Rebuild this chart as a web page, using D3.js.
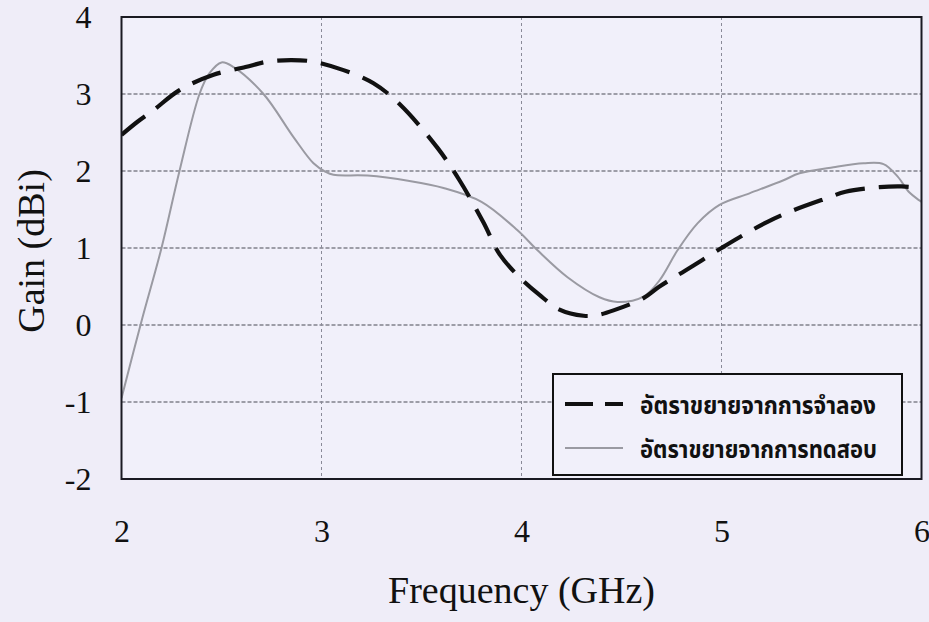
<!DOCTYPE html>
<html><head><meta charset="utf-8">
<script src="https://cdn.jsdelivr.net/npm/d3@7"></script>
<style>
html,body{margin:0;padding:0;background:#efedf8;}
svg{display:block;}
.serif{font-family:'Liberation Serif','Times New Roman',serif;}
</style></head>
<body>
<script>
// ---- data ----
const xTicks = [2, 3, 4, 5, 6];
const yTicks = [-2, -1, 0, 1, 2, 3, 4];
const xLabel = "Frequency (GHz)";
const yLabel = "Gain (dBi)";
const seriesNames = ["อัตราขยายจากการจำลอง", "อัตราขยายจากการทดสอบ"];

const simFreq = [2.0, 2.08, 2.16, 2.29, 2.46, 2.62, 2.73, 2.85, 2.96, 3.11, 3.26, 3.39, 3.58, 3.69, 3.81, 3.89, 3.99, 4.09, 4.19, 4.31, 4.38, 4.46, 4.61, 4.69, 4.84, 5.0, 5.09, 5.23, 5.36, 5.53, 5.62, 5.79, 5.9, 6.0];
const simGain = [2.47, 2.64, 2.79, 3.05, 3.25, 3.35, 3.42, 3.44, 3.42, 3.31, 3.14, 2.87, 2.30, 1.88, 1.33, 0.92, 0.62, 0.39, 0.2, 0.12, 0.13, 0.19, 0.35, 0.5, 0.74, 1.0, 1.14, 1.34, 1.49, 1.65, 1.73, 1.79, 1.8, 1.78];

const measFreq = [2.0, 2.1, 2.2, 2.29, 2.39, 2.44, 2.5, 2.56, 2.71, 2.86, 2.96, 3.02, 3.06, 3.23, 3.44, 3.61, 3.8, 3.98, 4.08, 4.23, 4.39, 4.48, 4.61, 4.69, 4.78, 4.88, 4.99, 5.14, 5.31, 5.39, 5.56, 5.71, 5.81, 5.88, 5.94, 6.0];
const measGain = [-0.95, 0.05, 1.0, 2.0, 3.0, 3.27, 3.41, 3.35, 3.0, 2.44, 2.1, 1.99, 1.95, 1.94, 1.87, 1.78, 1.6, 1.23, 0.97, 0.62, 0.36, 0.3, 0.37, 0.58, 0.97, 1.32, 1.56, 1.71, 1.88, 1.97, 2.05, 2.1, 2.09, 1.93, 1.72, 1.6];

// ---- layout ----
const W = 929, H = 622;
const m = {left: 121.5, top: 17, right: 929 - 921.5, bottom: 622 - 479};
const svg = d3.select("body").append("svg").attr("width", W).attr("height", H);

const x = d3.scaleLinear().domain([2, 6]).range([m.left, W - m.right]);
const y = d3.scaleLinear().domain([-2, 4]).range([H - m.bottom, m.top]);

svg.append("rect").attr("width", W).attr("height", H).attr("fill", "#efedf8");
svg.append("rect").attr("x", x(2)).attr("y", y(4)).attr("width", x(6) - x(2)).attr("height", y(-2) - y(4)).attr("fill", "#f1f0fa");

// grid
svg.append("g").selectAll("line").data(yTicks.filter(d => d > -2 && d < 4)).join("line")
  .attr("x1", x(2)).attr("x2", x(6)).attr("y1", d => y(d)).attr("y2", d => y(d))
  .attr("stroke", "#4a4a55").attr("stroke-width", 1.2).attr("stroke-dasharray", "4,2");
svg.append("g").selectAll("line").data(xTicks.filter(d => d > 2 && d < 6)).join("line")
  .attr("x1", d => x(d)).attr("x2", d => x(d)).attr("y1", y(4)).attr("y2", y(-2))
  .attr("stroke", "#8a8a98").attr("stroke-width", 1).attr("stroke-dasharray", "3,3");

// axes (labels only)
const xAxis = svg.append("g").attr("transform", `translate(0,${y(-2)})`)
  .call(d3.axisBottom(x).tickValues(xTicks).tickSize(0).tickPadding(40).tickFormat(d3.format("d")));
const yAxis = svg.append("g").attr("transform", `translate(${x(2)},0)`)
  .call(d3.axisLeft(y).tickValues(yTicks).tickSize(0).tickPadding(30).tickFormat(d => d < 0 ? "-" + Math.abs(d) : d));
[xAxis, yAxis].forEach(a => {
  a.select(".domain").remove();
  a.attr("font-family", null).attr("font-size", null);
  a.selectAll("text").attr("class", "serif")
    .style("font-family", "'Liberation Serif', 'Times New Roman', serif")
    .style("font-size", "32px").attr("fill", "#111");
});

// lines
const line = d3.line().x(d => x(d[0])).y(d => y(d[1])).curve(d3.curveCatmullRom.alpha(0.5));
const simData = simFreq.map((f, i) => [f, simGain[i]]);
const measData = measFreq.map((f, i) => [f, measGain[i]]);

svg.append("clipPath").attr("id", "pc").append("rect")
  .attr("x", x(2)).attr("y", y(4)).attr("width", x(6) - x(2)).attr("height", y(-2) - y(4));

svg.append("path").datum(measData).attr("d", line).attr("fill", "none")
  .attr("stroke", "#9a9aa2").attr("stroke-width", 2).attr("clip-path", "url(#pc)");
svg.append("path").datum(simData).attr("d", line).attr("fill", "none")
  .attr("stroke", "#111").attr("stroke-width", 4.2).attr("stroke-dasharray", "30,14").attr("clip-path", "url(#pc)");

// frame
svg.append("rect").attr("x", x(2)).attr("y", y(4)).attr("width", x(6) - x(2)).attr("height", y(-2) - y(4))
  .attr("fill", "none").attr("stroke", "#1a1a22").attr("stroke-width", 2);

// legend
const lg = svg.append("g");
const lx = 553, ly = 374, lw = 349, lh = 101;
lg.append("rect").attr("x", lx).attr("y", ly).attr("width", lw).attr("height", lh)
  .attr("fill", "#f1f0fa").attr("stroke", "#111").attr("stroke-width", 2);
lg.append("line").attr("x1", lx + 12).attr("x2", lx + 70).attr("y1", ly + 30).attr("y2", ly + 30)
  .attr("stroke", "#111").attr("stroke-width", 4.2).attr("stroke-dasharray", "28,12");
lg.append("line").attr("x1", lx + 12).attr("x2", lx + 70).attr("y1", ly + 74).attr("y2", ly + 74)
  .attr("stroke", "#9a9aa2").attr("stroke-width", 2);
lg.selectAll("text").data(seriesNames).join("text")
  .attr("x", lx + 87).attr("y", (d, i) => ly + 40 + i * 44)
  .attr("font-family", "'Noto Sans Thai', 'Noto Sans', 'DejaVu Sans', sans-serif")
  .attr("font-weight", "bold").attr("font-size", 24).attr("fill", "#111")
  .attr("textLength", (d, i) => i === 0 ? 236 : 237).attr("lengthAdjust", "spacingAndGlyphs")
  .text(d => d);

// axis titles
svg.append("text").attr("x", x(4)).attr("y", 603).attr("text-anchor", "middle")
  .style("font-family", "'Liberation Serif', 'Times New Roman', serif").attr("font-size", 38).attr("fill", "#111")
  .text(xLabel);
svg.append("text").attr("transform", `translate(44,${251}) rotate(-90)`).attr("text-anchor", "middle")
  .style("font-family", "'Liberation Serif', 'Times New Roman', serif").attr("font-size", 38).attr("fill", "#111")
  .text(yLabel);
</script>
</body></html>
